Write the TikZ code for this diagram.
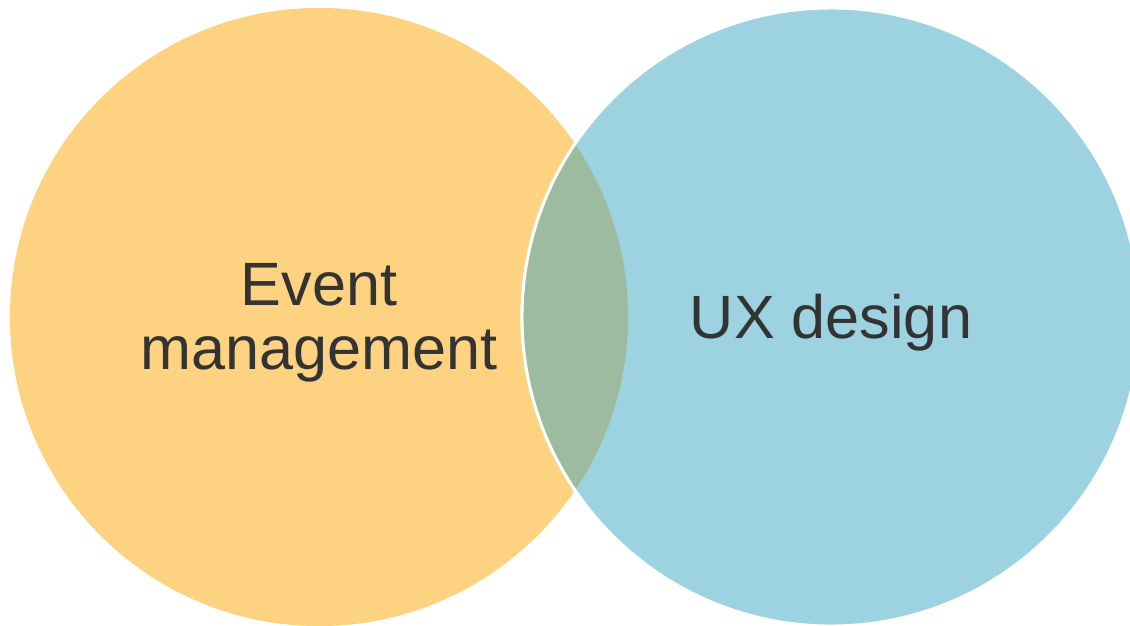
\documentclass[tikz,border=0pt]{standalone}
\usepackage{fontspec}
\setmainfont{Liberation Sans}
\usetikzlibrary{positioning}
\definecolor{evorange}{HTML}{FDD281}
\definecolor{uxblue}{HTML}{9DD3E1}
\definecolor{lensgreen}{HTML}{9DBBA0}
\definecolor{textgray}{HTML}{333333}

\begin{document}
\begin{tikzpicture}[
    x=0.025cm, y=-0.025cm,
    setcircle/.style={circle, minimum size=15.45cm, inner sep=0pt, draw=none},
    setlabel/.style={text=textgray, align=center, font=\fontsize{43.5}{45.5}\selectfont}
    ]
    \useasboundingbox (0,0) rectangle (1130,625);

    %Circles
    \node[setcircle, fill=evorange] (event) at (319,317) {};
    \node[setcircle, fill=uxblue]   (ux)    at (831,317) {};

    %Overlap
    \begin{scope}
        \clip (ux.center) circle[radius=7.725cm];
        \fill[lensgreen] (event.center) circle[radius=7.725cm];
    \end{scope}
    \draw[white, line width=2.2pt] (ux.center) circle[radius=7.725cm];

    % Labels
    \node[setlabel, yshift=-4pt] (eventlabel) at (event.center) {Event\\management};
    \node[setlabel, yshift=-4pt] (uxlabel)    at (ux.center)    {UX design};
\end{tikzpicture}
\end{document}
